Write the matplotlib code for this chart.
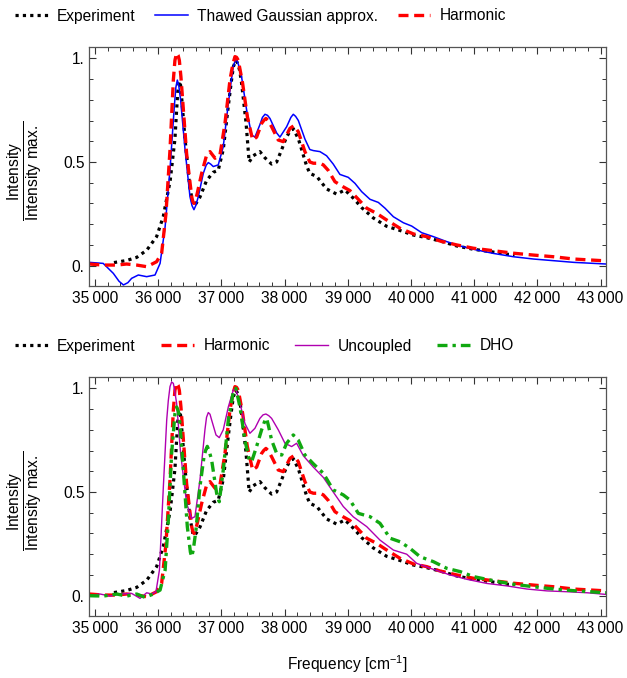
import matplotlib
matplotlib.use("Agg")
import matplotlib.pyplot as plt
from matplotlib.ticker import MultipleLocator, FuncFormatter

plt.rcParams['font.family'] = ['Liberation Sans', 'DejaVu Sans']
plt.rcParams['mathtext.fontset'] = 'custom'
plt.rcParams['mathtext.rm'] = 'Liberation Sans'
plt.rcParams['mathtext.it'] = 'Liberation Sans:italic'
plt.rcParams['mathtext.bf'] = 'Liberation Sans:bold'

# ---------------- data ----------------
exp_freq = [35300, 35500, 35660, 35820, 35975, 36080, 36190, 36265, 36290, 36310, 36335,
            36355, 36380, 36425, 36500, 36555, 36600, 36660, 36765, 36870, 36950, 37030,
            37110, 37150, 37190, 37230, 37260, 37290, 37320, 37390, 37440, 37505, 37610,
            37690, 37795, 37875, 37955, 38030, 38090, 38140, 38220, 38350, 38400, 38510,
            38665, 38825, 38955, 39090, 39220, 39405, 39615, 39825, 40035, 40250, 40460,
            40725, 40990, 41255, 41520, 41640]
exp_int = [0.015, 0.025, 0.04, 0.075, 0.14, 0.236, 0.41, 0.61, 0.74, 0.84, 0.89,
           0.87, 0.78, 0.61, 0.38, 0.29, 0.30, 0.33, 0.41, 0.45, 0.46, 0.56,
           0.77, 0.87, 0.96, 0.99, 0.975, 0.94, 0.88, 0.69, 0.50, 0.53, 0.55,
           0.52, 0.49, 0.50, 0.56, 0.62, 0.65, 0.66, 0.61, 0.48, 0.445, 0.43,
           0.37, 0.345, 0.365, 0.325, 0.28, 0.23, 0.19, 0.17, 0.148, 0.135, 0.119,
           0.095, 0.079, 0.068, 0.055, 0.053]

tga_freq = [34910, 35130, 35290, 35380, 35450, 35520, 35580, 35686, 35818, 35950, 36030,
            36110, 36190, 36255, 36280, 36303, 36325, 36355, 36425, 36503, 36535, 36566,
            36595, 36635, 36714, 36760, 36793, 36830, 36872, 36951, 37030, 37110, 37160,
            37189, 37215, 37242, 37270, 37320, 37400, 37479, 37531, 37610, 37650, 37690,
            37730, 37769, 37875, 37927, 38033, 38100, 38138, 38175, 38218, 38323, 38400,
            38455, 38560, 38665, 38770, 38876, 39008, 39114, 39220, 39352, 39484, 39590,
            39722, 39880, 40012, 40170, 40355, 40566, 40778, 40990, 41307, 41625, 41942,
            42260, 42577, 43090]
tga_int = [0.016, 0.011, -0.037, -0.075, -0.093, -0.082, -0.061, -0.045, -0.053, -0.045, 0.011,
           0.188, 0.477, 0.767, 0.86, 0.895, 0.87, 0.80, 0.56, 0.333, 0.29, 0.27,
           0.29, 0.333, 0.445, 0.485, 0.497, 0.49, 0.478, 0.486, 0.574, 0.783, 0.90,
           0.96, 0.985, 0.992, 0.97, 0.91, 0.75, 0.63, 0.62, 0.68, 0.715, 0.73,
           0.725, 0.71, 0.64, 0.62, 0.67, 0.715, 0.73, 0.72, 0.70, 0.61, 0.56,
           0.555, 0.55, 0.53, 0.49, 0.44, 0.426, 0.397, 0.357, 0.32, 0.305, 0.277,
           0.236, 0.207, 0.191, 0.159, 0.14, 0.116, 0.095, 0.079, 0.059, 0.043, 0.032,
           0.024, 0.016, 0.008]

harm_freq = [34910, 35130, 35345, 35500, 35660, 35820, 35975, 36055, 36123, 36187, 36240,
             36265, 36292, 36315, 36335, 36360, 36387, 36450, 36530, 36548, 36566, 36590,
             36619, 36688, 36767, 36820, 36900, 36978, 37057, 37136, 37180, 37215, 37240,
             37268, 37336, 37410, 37495, 37558, 37637, 37670, 37705, 37740, 37795, 37900,
             37980, 38085, 38148, 38217, 38322, 38400, 38455, 38560, 38613, 38690, 38797,
             38929, 39035, 39167, 39300, 39458, 39617, 39828, 40040, 40250, 40460, 40725,
             40990, 41307, 41625, 41942, 42260, 42577, 43090]
harm_int = [0.008, 0.003, 0.003, 0.008, 0.003, -0.005, 0.019, 0.06, 0.25, 0.558, 0.895,
            0.99, 1.025, 1.015, 0.99, 0.91, 0.80, 0.54, 0.333, 0.31, 0.30, 0.315,
            0.35, 0.445, 0.534, 0.55, 0.518, 0.534, 0.686, 0.895, 0.97, 1.008, 1.005,
            0.99, 0.88, 0.72, 0.606, 0.62, 0.686, 0.70, 0.71, 0.70, 0.67, 0.606,
            0.598, 0.662, 0.675, 0.646, 0.55, 0.50, 0.494, 0.494, 0.486, 0.46, 0.405,
            0.38, 0.362, 0.32, 0.277, 0.252, 0.22, 0.18, 0.153, 0.14, 0.119, 0.10,
            0.084, 0.072, 0.06, 0.051, 0.043, 0.032, 0.023]

unc_freq = [34910, 35080, 35240, 35400, 35580, 35713, 35818, 35898, 35965, 36020, 36082,
            36135, 36160, 36187, 36212, 36240, 36265, 36292, 36355, 36450, 36530, 36582,
            36661, 36740, 36765, 36793, 36820, 36846, 36915, 36967, 37030, 37110, 37189,
            37230, 37294, 37373, 37452, 37531, 37610, 37660, 37705, 37750, 37795, 37900,
            38006, 38112, 38191, 38296, 38455, 38614, 38770, 38929, 39088, 39300, 39510,
            39722, 39933, 40090, 40355, 40620, 40884, 41200, 41520, 41837, 42154, 42471,
            42789, 43090]
unc_int = [0.0, 0.008, -0.002, 0.008, 0.011, -0.013, 0.014, 0.008, 0.019, 0.124, 0.526,
           0.847, 0.94, 1.008, 1.03, 1.024, 0.98, 0.928, 0.686, 0.445, 0.373, 0.381,
           0.558, 0.80, 0.86, 0.883, 0.875, 0.847, 0.775, 0.762, 0.80, 0.91, 0.992,
           0.995, 0.928, 0.83, 0.783, 0.807, 0.855, 0.872, 0.876, 0.868, 0.855, 0.80,
           0.735, 0.719, 0.735, 0.675, 0.62, 0.57, 0.50, 0.43, 0.38, 0.333, 0.268,
           0.22, 0.20, 0.156, 0.127, 0.10, 0.079, 0.059, 0.047, 0.032, 0.023, 0.019,
           0.014, 0.006]

dho_freq = [34910, 35130, 35345, 35500, 35660, 35790, 35924, 36030, 36110, 36161, 36213,
            36266, 36292, 36318, 36345, 36398, 36461, 36510, 36530, 36555, 36598, 36661,
            36725, 36750, 36777, 36805, 36846, 36925, 36967, 37030, 37110, 37189, 37230,
            37294, 37373, 37441, 37479, 37558, 37637, 37690, 37716, 37745, 37795, 37875,
            37954, 38033, 38138, 38217, 38323, 38455, 38614, 38770, 38929, 39035, 39167,
            39352, 39510, 39670, 39828, 39986, 40144, 40355, 40566, 40778, 40990, 41307,
            41625, 41942, 42260, 42577, 43090]
dho_int = [0.0, -0.002, 0.008, -0.002, 0.008, -0.008, 0.008, 0.027, 0.124, 0.365, 0.686,
           0.88, 0.91, 0.89, 0.83, 0.606, 0.333, 0.21, 0.188, 0.22, 0.317, 0.526,
           0.67, 0.70, 0.72, 0.70, 0.654, 0.494, 0.453, 0.606, 0.847, 0.984, 1.0,
           0.91, 0.75, 0.654, 0.646, 0.72, 0.80, 0.845, 0.855, 0.82, 0.75, 0.686,
           0.678, 0.735, 0.775, 0.75, 0.678, 0.636, 0.59, 0.51, 0.486, 0.461, 0.397,
           0.381, 0.349, 0.277, 0.26, 0.228, 0.188, 0.164, 0.132, 0.116, 0.092, 0.072,
           0.055, 0.043, 0.032, 0.024, 0.014]

labels_top = ["Experiment", "Thawed Gaussian approx.", "Harmonic"]
labels_bot = ["Experiment", "Harmonic", "Uncoupled", "DHO"]
x_label = "Frequency [cm$^{-1}$]"

# ---------------- styles ----------------
FS = 11.2
W, H = 627, 678
fig = plt.figure(figsize=(W / 100, H / 100), dpi=100)

ax_left = 89.3 / W
ax_w = (605.7 - 89.3) / W
ax_h = (286 - 47.3) / H
ax1 = fig.add_axes([ax_left, 1 - 286 / H, ax_w, ax_h])
ax2 = fig.add_axes([ax_left, 1 - 616 / H, ax_w, ax_h])

st_exp = dict(color='black', lw=2.3, linestyle=(0, (1, 1.3)))
st_tga = dict(color='#0000ff', lw=1.1, linestyle='-')
st_harm = dict(color='#ff0000', lw=2.4, linestyle=(0, (3, 1.7)))
st_unc = dict(color='#b000b0', lw=1.0, linestyle='-')
st_dho = dict(color='#10a810', lw=2.4, linestyle=(0, (3, 1.5, 1, 1.5)))

ax1.plot(exp_freq, exp_int, label=labels_top[0], **st_exp)
ax1.plot(tga_freq, tga_int, label=labels_top[1], **st_tga)
ax1.plot(harm_freq, harm_int, label=labels_top[2], **st_harm)

ax2.plot(exp_freq, exp_int, label=labels_bot[0], **st_exp)
ax2.plot(harm_freq, harm_int, label=labels_bot[1], **st_harm)
ax2.plot(unc_freq, unc_int, label=labels_bot[2], **st_unc)
ax2.plot(dho_freq, dho_int, label=labels_bot[3], **st_dho)


def xfmt(v, pos):
    v = int(round(v))
    return f"{v // 1000}\u2009{v % 1000:03d}"


def yfmt(v, pos):
    if abs(v - round(v)) < 1e-9:
        return f"{int(round(v))}."
    return f"{v:.1f}"


for ax in (ax1, ax2):
    ax.set_xlim(34910, 43082)
    ax.set_ylim(-0.098, 1.053)
    ax.xaxis.set_major_locator(MultipleLocator(1000))
    ax.xaxis.set_minor_locator(MultipleLocator(200))
    ax.yaxis.set_major_locator(MultipleLocator(0.5))
    ax.yaxis.set_minor_locator(MultipleLocator(0.1))
    ax.xaxis.set_major_formatter(FuncFormatter(xfmt))
    ax.yaxis.set_major_formatter(FuncFormatter(yfmt))
    ax.tick_params(which='both', direction='in', top=True, right=True,
                   labelsize=FS, colors='#333333', labelcolor='black')
    ax.tick_params(which='major', length=5, width=0.8)
    ax.tick_params(which='minor', length=3, width=0.7)
    for s in ax.spines.values():
        s.set_color('#555555')
        s.set_linewidth(0.9)
    ax.patch.set_alpha(0)

leg_kw = dict(loc='center left', ncol=4, frameon=False, fontsize=FS,
              handlelength=2.1, handletextpad=0.6,
              borderpad=0, borderaxespad=0, bbox_transform=fig.transFigure)
ax1.legend(bbox_to_anchor=(15 / W, 1 - 16 / H), columnspacing=1.25, **leg_kw)
ax2.legend(bbox_to_anchor=(15 / W, 1 - 346 / H), columnspacing=1.65, **leg_kw)

ylab = r"$\dfrac{\mathrm{Intensity}}{\mathrm{Intensity\ max.}}$"
fig.text(25 / W, 1 - 171 / H, ylab, rotation=90, ha='center', va='center', fontsize=FS)
fig.text(25 / W, 1 - 501 / H, ylab, rotation=90, ha='center', va='center', fontsize=FS)

fig.text((89.3 + 605.7) / 2 / W, 1 - 664 / H, x_label, ha='center', va='center', fontsize=FS)

fig.savefig("out.png", dpi=100)
